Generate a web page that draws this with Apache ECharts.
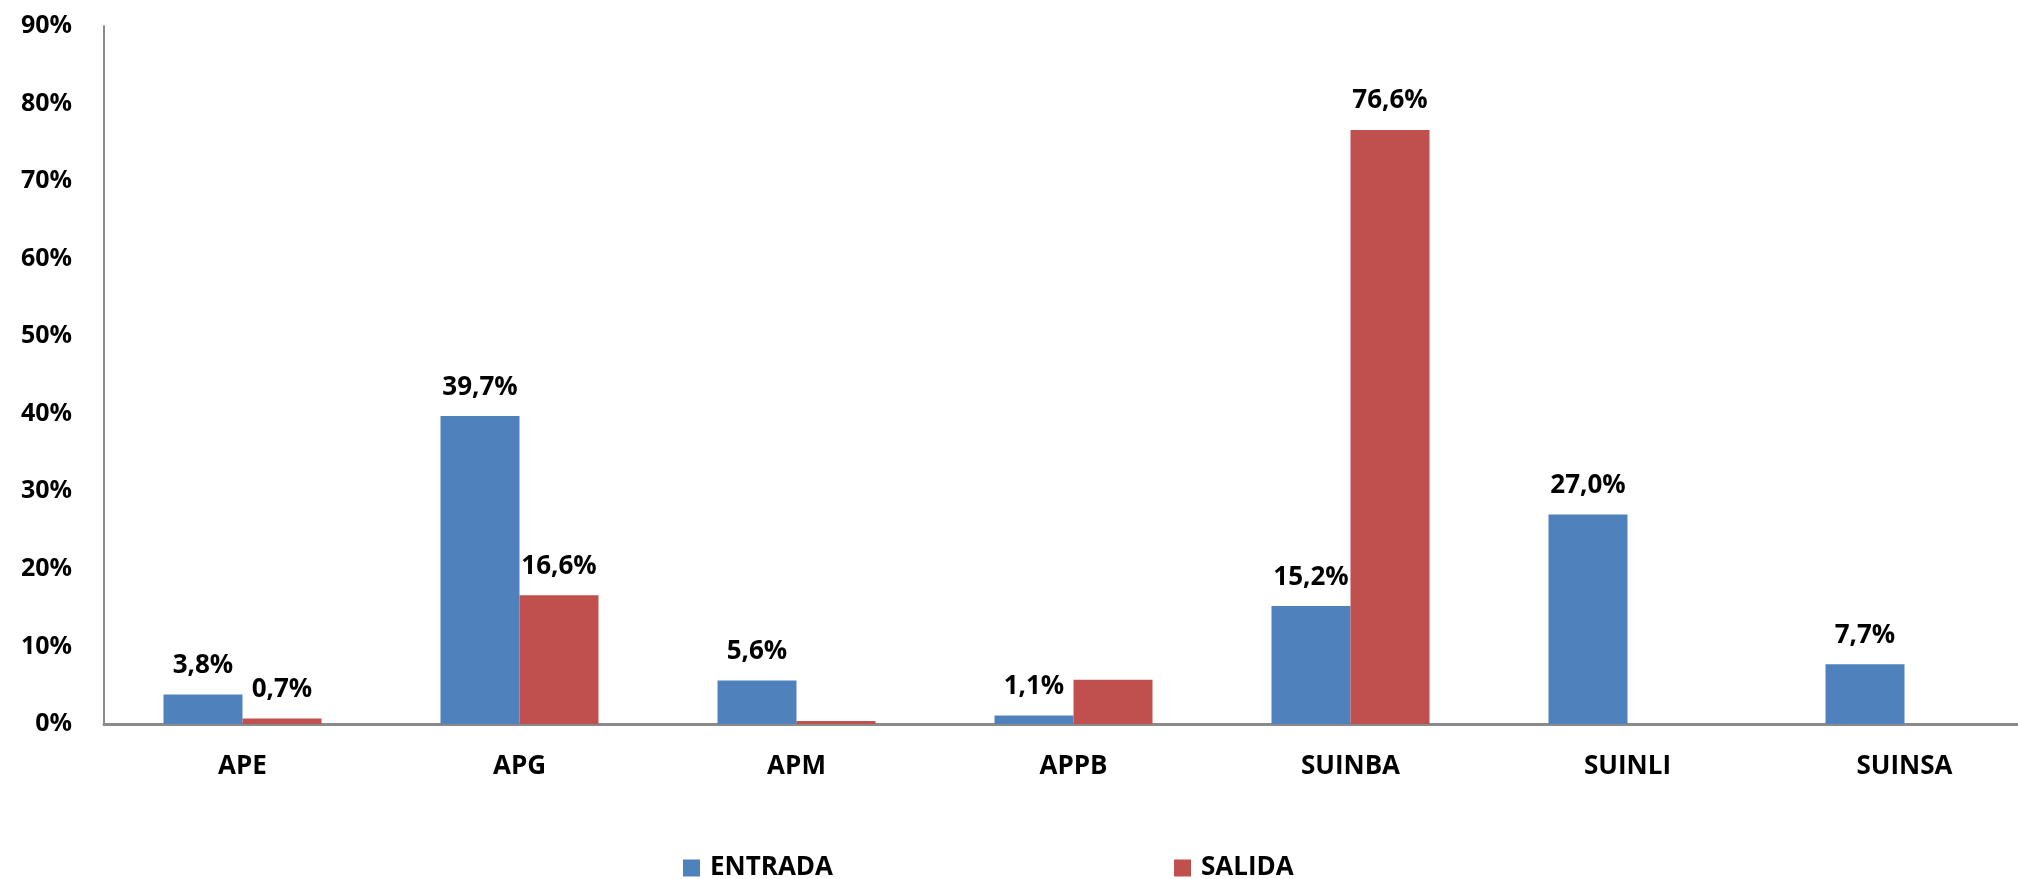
<!DOCTYPE html>
<html>
<head>
<meta charset="utf-8">
<script src="https://cdn.jsdelivr.net/npm/echarts@6/dist/echarts.min.js"></script>
<style>
html,body{margin:0;padding:0;background:#fff;}
#chart{width:2018px;height:879px;}
</style>
</head>
<body>
<div id="chart"></div>
<script>
const categories = ['APE', 'APG', 'APM', 'APPB', 'SUINBA', 'SUINLI', 'SUINSA'];
const entrada = [3.8, 39.7, 5.6, 1.1, 15.2, 27.0, 7.7];
const salida = [0.7, 16.6, 0.4, 5.7, 76.6, null, null];
const salidaLabelShown = [true, true, false, false, true, false, false];
const yTicks = { min: 0, max: 90, interval: 10 };

const FONT = '"Open Sans", "DejaVu Sans", sans-serif';
const fmt = v => v.toFixed(1).replace('.', ',') + '%';

const labelStyle = {
  show: true,
  position: 'top',
  distance: 16,
  fontFamily: FONT,
  fontWeight: 'bold',
  fontSize: 26,
  color: '#000',
  formatter: p => fmt(p.value)
};

const chart = echarts.init(document.getElementById('chart'), null, { renderer: 'canvas' });
chart.setOption({
  animation: false,
  backgroundColor: '#fff',
  grid: { left: 104, top: 26, width: 1939, bottom: 155, containLabel: false, outerBoundsMode: 'none' },
  legend: [
    {
      data: ['ENTRADA'], left: 683, top: 855, padding: 0,
      itemWidth: 17, itemHeight: 17, icon: 'rect',
      textStyle: { fontFamily: FONT, fontWeight: 'bold', fontSize: 26, color: '#000', padding: [0, 0, 0, 5] }
    },
    {
      data: ['SALIDA'], left: 1174, top: 855, padding: 0,
      itemWidth: 17, itemHeight: 17, icon: 'rect',
      textStyle: { fontFamily: FONT, fontWeight: 'bold', fontSize: 26, color: '#000', padding: [0, 0, 0, 5] }
    }
  ],
  xAxis: {
    type: 'category',
    data: categories,
    axisLine: { show: true, lineStyle: { color: '#8a8a8a', width: 3 } },
    axisTick: { show: false },
    axisLabel: { fontFamily: FONT, fontWeight: 'bold', fontSize: 26, color: '#000', margin: 30 }
  },
  yAxis: {
    type: 'value',
    min: yTicks.min, max: yTicks.max, interval: yTicks.interval,
    axisLine: { show: true, lineStyle: { color: '#8a8a8a', width: 2 } },
    axisTick: { show: false },
    splitLine: { show: false },
    axisLabel: { fontFamily: FONT, fontWeight: 'bold', fontSize: 25, color: '#000', margin: 32, formatter: '{value}%' }
  },
  series: [
    {
      name: 'ENTRADA', type: 'bar', data: entrada,
      barWidth: 79, barGap: '0%',
      itemStyle: { color: '#4F81BD' },
      label: labelStyle
    },
    {
      name: 'SALIDA', type: 'bar',
      data: salida.map((v, i) => ({ value: v, label: { show: salidaLabelShown[i] } })),
      barWidth: 79, barGap: '0%',
      itemStyle: { color: '#C0504D' },
      label: labelStyle
    }
  ]
});
</script>
</body>
</html>
